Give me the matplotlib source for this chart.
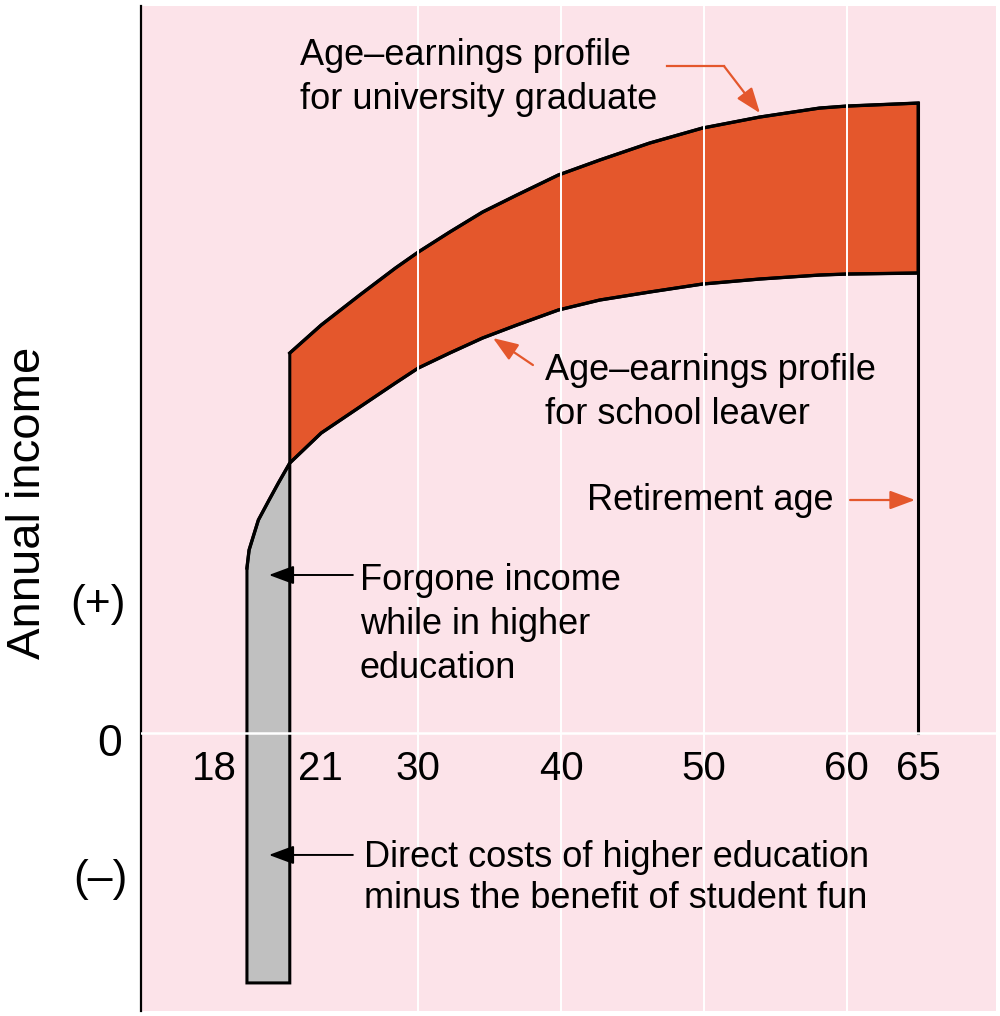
import matplotlib
matplotlib.use("Agg")
import matplotlib.pyplot as plt
from matplotlib import rcParams

rcParams['font.family'] = ['Liberation Sans', 'DejaVu Sans']

# ages and annual income (arbitrary units, 0 = nothing earned)
leaver_ages = [18, 18.15, 18.8, 19.55, 20.2, 21, 23.2, 25.9, 28.4, 30, 32.2, 34.5, 36.9,
               39.8, 42.7, 46.2, 49.9, 53.9, 58.1, 60, 65]
leaver_income = [1.65, 1.83, 2.13, 2.33, 2.50, 2.70, 3.00, 3.26, 3.50, 3.65, 3.80, 3.95, 4.08,
                 4.23, 4.33, 4.41, 4.49, 4.54, 4.58, 4.59, 4.60]
grad_ages = [21, 23.2, 25.9, 28.4, 30, 32.2, 34.5, 36.9, 39.8, 42.7, 46.2, 49.9, 53.9, 58.1, 60, 65]
grad_income = [3.80, 4.08, 4.38, 4.65, 4.81, 5.01, 5.21, 5.38, 5.58, 5.73, 5.90, 6.05, 6.16,
               6.25, 6.27, 6.30]
study_start = 18
study_end = 21
retire_age = 65
direct_cost = -2.5
grid_ages = [30, 40, 50, 60]
tick_ages = [18, 21, 30, 40, 50, 60, 65]

pink = '#FCE3E9'
orange = '#E4572C'
grey = '#C0C0C0'

fig = plt.figure(figsize=(10, 10.16), dpi=100)
ax = fig.add_axes([0.141, 0.005, 0.855, 0.989])
ax.set_facecolor(pink)
ax.set_xlim(10.58, 70.46)
ax.set_ylim(-2.78, 7.27)
for s in ['top', 'right', 'bottom']:
    ax.spines[s].set_visible(False)
ax.spines['left'].set_linewidth(1.6)
ax.set_xticks([])
ax.set_yticks([])

# grey block: forgone income + direct costs while studying
n_study = leaver_ages.index(study_end) + 1
gx = [study_start] + leaver_ages[:n_study] + [study_end]
gy = [direct_cost] + leaver_income[:n_study] + [direct_cost]
ax.fill(gx, gy, facecolor=grey, edgecolor='black', lw=2.2, zorder=2)

# orange band between the two profiles
k = leaver_ages.index(study_end)
ox = grad_ages + leaver_ages[k:][::-1]
oy = grad_income + leaver_income[k:][::-1]
ax.fill(ox, oy, facecolor=orange, edgecolor='black', lw=2.2, zorder=2)

ax.plot(grad_ages, grad_income, color='black', lw=2.4, zorder=3, solid_joinstyle='round')
ax.plot(leaver_ages, leaver_income, color='black', lw=2.4, zorder=3, solid_joinstyle='round')
ax.plot([retire_age, retire_age], [0, grad_income[-1]], color='black', lw=2.2, zorder=3)

# white guide lines on top
for a in grid_ages:
    ax.axvline(a, color='white', lw=1.4, zorder=4)
ax.axhline(0, color='white', lw=1.8, zorder=4)

# age labels under the zero line
for a in tick_ages:
    if a == study_start:
        off, ha = -7, 'right'
    elif a == study_end:
        off, ha = 6, 'left'
    else:
        off, ha = 0, 'center'
    ax.annotate(str(a), xy=(a, 0), xytext=(off, -34), textcoords='offset points',
                ha=ha, va='baseline', fontsize=29)

ax.text(8.4, -0.12, '0', ha='center', va='center', fontsize=32)
ax.text(7.56, 1.28, '(+)', ha='center', va='center', fontsize=32)
ax.text(7.77, -1.47, '(–)', ha='center', va='center', fontsize=32)
ax.text(2.66, 2.30, 'Annual income', rotation=90, ha='center', va='center', fontsize=34)


def put_lines(x, y0, lines, step):
    for i, s in enumerate(lines):
        ax.text(x, y0 - i * step, s, ha='left', va='baseline', fontsize=26, zorder=6)


put_lines(21.71, 6.68, ['Age–earnings profile', 'for university graduate'], 0.44)
put_lines(38.87, 3.53, ['Age–earnings profile', 'for school leaver'], 0.44)
put_lines(41.81, 2.23, ['Retirement age'], 0.44)
put_lines(25.91, 1.43, ['Forgone income', 'while in higher', 'education'], 0.44)
put_lines(26.2, -1.34, ['Direct costs of higher education', 'minus the benefit of student fun'], 0.41)

# arrows
head = '-|>,head_length=0.7,head_width=0.26'
arr_o = dict(arrowstyle=head, color=orange, lw=1.6, mutation_scale=22, shrinkA=0, shrinkB=0)
arr_k = dict(arrowstyle=head, color='black', lw=1.4, mutation_scale=22, shrinkA=0, shrinkB=0)
ax.plot([47.42, 51.41], [6.67, 6.67], color=orange, lw=1.6, zorder=6)
ax.annotate('', xy=(53.93, 6.20), xytext=(51.41, 6.67), arrowprops=arr_o, zorder=6)
ax.annotate('', xy=(35.23, 3.95), xytext=(38.03, 3.68), arrowprops=arr_o, zorder=6)
ax.annotate('', xy=(64.79, 2.33), xytext=(60.24, 2.33), arrowprops=arr_o, zorder=6)
ax.annotate('', xy=(19.54, 1.58), xytext=(25.42, 1.58), arrowprops=arr_k, zorder=6)
ax.annotate('', xy=(19.54, -1.22), xytext=(25.42, -1.22), arrowprops=arr_k, zorder=6)

fig.savefig('out.png', dpi=100, facecolor='white')
